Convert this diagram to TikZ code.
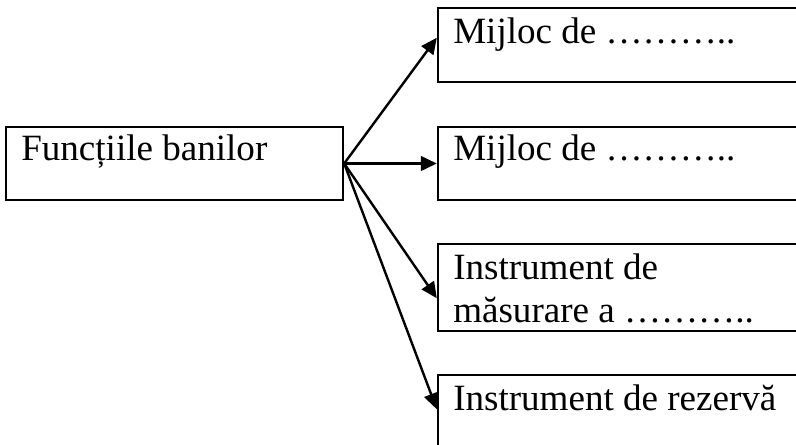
\documentclass[tikz,border=0pt]{standalone}
\usepackage{fontspec}
\setmainfont{Liberation Serif}
\usetikzlibrary{arrows.meta,fit,calc}
\begin{document}
\begin{tikzpicture}[x=0.75pt,y=-0.75pt,
  box/.style={draw, line width=1.8pt, inner sep=0pt},
  lbl/.style={anchor=base west, inner sep=0pt, font=\fontsize{27.8}{32}\selectfont},
  arr/.style={line width=1.8pt, -{Triangle[length=12pt,width=11pt]}}]
\useasboundingbox (0,0) rectangle (796,444);
\clip (0,0) rectangle (796,444);
% boxes
\node[box, fit={(6,127) (343,200)}] (L) {};
\node[box, fit={(438,8) (830,82)}] (R1) {};
\node[box, fit={(438,127) (830,200)}] (R2) {};
\node[box, fit={(438,244) (830,331)}] (R3) {};
\node[box, fit={(438,375) (830,480)}] (R4) {};
% texts
\node[lbl] (tL) at (21,160) {Funcțiile banilor};
\node[lbl] (t1) at (453,43) {Mijloc de ………..};
\node[lbl] (t2) at (453,160) {Mijloc de ………..};
\node[lbl] (t3a) at (453,279) {Instrument de};
\node[lbl] (t3b) at (453,322) {măsurare a ………..};
\node[lbl] (t4) at (453,410) {Instrument de rezervă};
% arrows
\coordinate (o) at (L.east);
\draw[arr] (o) -- ($(R1.north west)!0.405!(R1.south west)$);
\draw[arr] (o) -- (R2.west);
\draw[arr] (o) -- ($(R3.north west)!0.62!(R3.south west)$);
\draw[arr] (o) -- ($(R4.north west)!0.33!(R4.south west)$);
\end{tikzpicture}
\end{document}
